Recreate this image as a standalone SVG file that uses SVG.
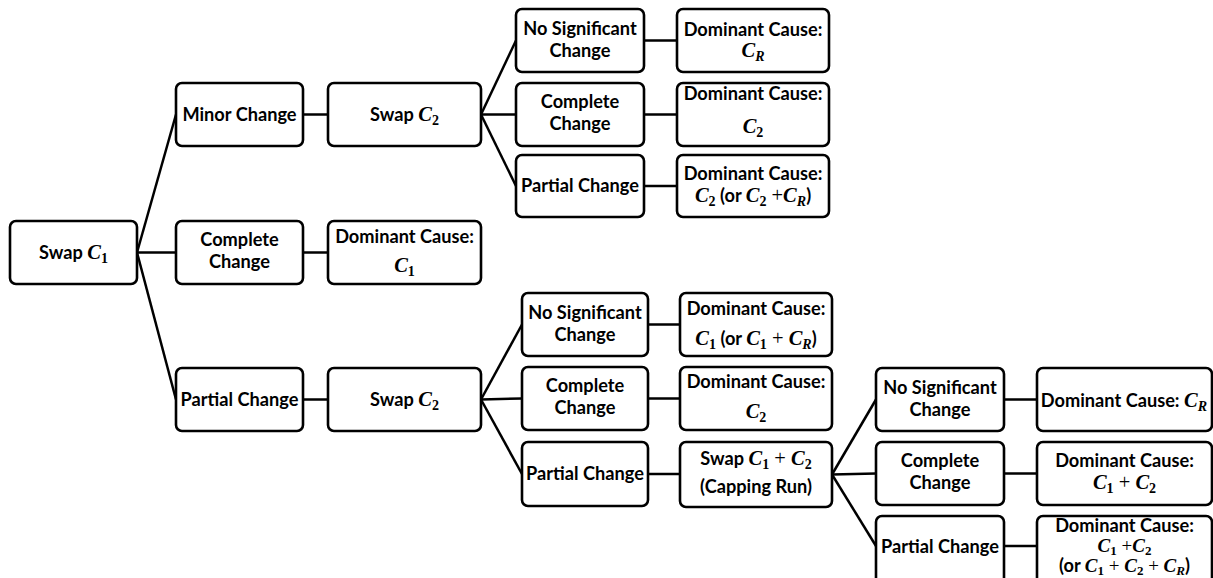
<svg xmlns="http://www.w3.org/2000/svg" width="1213" height="578" viewBox="0 0 1213 578">
<style>
rect{fill:#fff;stroke:#000;stroke-width:2.6}
#connectors line{stroke:#000;stroke-width:2.5}
text{font-family:Lato,"Open Sans",sans-serif;font-weight:bold;font-size:18.2px;text-anchor:middle;fill:#000}
.m{font-family:"Liberation Serif",serif;font-style:italic;font-weight:bold;font-size:20.5px}
.s{font-family:"Liberation Serif",serif;font-style:normal;font-weight:bold;font-size:14px}
.si{font-family:"Liberation Serif",serif;font-style:italic;font-weight:bold;font-size:14px}
.p{font-family:"Liberation Serif",serif;font-style:normal;font-weight:normal;font-size:20.5px}
.tight{font-size:17.5px}
.tight .m,.tight .p{font-size:19px}
.tight .s,.tight .si{font-size:13px}
</style>
<g id="connectors">
<line x1="137" y1="252.5" x2="176" y2="114.5"/>
<line x1="137" y1="252.5" x2="176" y2="252.5"/>
<line x1="137" y1="252.5" x2="176" y2="399.5"/>
<line x1="303" y1="114.5" x2="328" y2="114.5"/>
<line x1="303" y1="252.5" x2="328" y2="252.5"/>
<line x1="303" y1="399.5" x2="328" y2="399.5"/>
<line x1="481" y1="114.5" x2="516" y2="40.5"/>
<line x1="481" y1="114.5" x2="516" y2="114.5"/>
<line x1="481" y1="114.5" x2="516" y2="186"/>
<line x1="644" y1="40.5" x2="677" y2="40.5"/>
<line x1="644" y1="114.5" x2="677" y2="114.5"/>
<line x1="644" y1="186" x2="677" y2="186"/>
<line x1="481" y1="399.5" x2="522" y2="324.5"/>
<line x1="481" y1="399.5" x2="522" y2="398.5"/>
<line x1="481" y1="399.5" x2="522" y2="474"/>
<line x1="648" y1="324.5" x2="680" y2="324.5"/>
<line x1="648" y1="398.5" x2="680" y2="398.5"/>
<line x1="648" y1="474" x2="680" y2="474"/>
<line x1="832" y1="474.5" x2="876" y2="399.5"/>
<line x1="832" y1="474.5" x2="876" y2="473.5"/>
<line x1="832" y1="474.5" x2="876" y2="546"/>
<line x1="1004" y1="399.5" x2="1037" y2="399.5"/>
<line x1="1004" y1="473.5" x2="1037" y2="473.5"/>
<line x1="1004" y1="546" x2="1037" y2="546"/>
</g>

<g id="swap_c1"><rect x="10" y="221" width="127" height="63" rx="6"/>
<text x="73.5" y="259">Swap <tspan class="m">C</tspan><tspan class="s" dy="4">1</tspan></text></g>

<g id="minor_change"><rect x="176" y="83" width="127" height="63" rx="6"/>
<text x="239.5" y="120.5">Minor Change</text></g>

<g id="complete_change_1"><rect x="176" y="221" width="127" height="63" rx="6"/>
<text x="239.5" y="246">Complete</text><text x="239.5" y="268">Change</text></g>

<g id="partial_change_1"><rect x="176" y="368" width="127" height="63" rx="6"/>
<text x="239.5" y="405.5">Partial Change</text></g>

<g id="swap_c2_top"><rect x="328" y="83" width="153" height="63" rx="6"/>
<text x="404.5" y="121">Swap <tspan class="m">C</tspan><tspan class="s" dy="4">2</tspan></text></g>

<g id="dominant_c1"><rect x="328" y="221" width="153" height="63" rx="6"/>
<text x="404.5" y="243">Dominant Cause:</text>
<text x="404.5" y="272"><tspan class="m">C</tspan><tspan class="s" dy="4">1</tspan></text></g>

<g id="swap_c2_bottom"><rect x="328" y="368" width="153" height="63" rx="6"/>
<text x="404.5" y="406">Swap <tspan class="m">C</tspan><tspan class="s" dy="4">2</tspan></text></g>

<g id="no_sig_a"><rect x="516" y="9" width="128" height="63" rx="6"/>
<text x="580" y="35">No Significant</text><text x="580" y="57">Change</text></g>

<g id="complete_a"><rect x="516" y="83" width="128" height="63" rx="6"/>
<text x="580" y="108">Complete</text><text x="580" y="130">Change</text></g>

<g id="partial_a"><rect x="516" y="155" width="128" height="62" rx="6"/>
<text x="580" y="192">Partial Change</text></g>

<g id="dominant_cr_a"><rect x="677" y="9" width="152" height="63" rx="6"/>
<text x="753" y="36">Dominant Cause:</text>
<text x="753" y="57"><tspan class="m">C</tspan><tspan class="si" dy="4">R</tspan></text></g>

<g id="dominant_c2_a"><rect x="677" y="83" width="152" height="63" rx="6"/>
<text x="753" y="100">Dominant Cause:</text>
<text x="753" y="133"><tspan class="m">C</tspan><tspan class="s" dy="4">2</tspan></text></g>

<g id="dominant_c2_or"><rect x="677" y="155" width="152" height="62" rx="6"/>
<text x="753" y="180">Dominant Cause:</text>
<text x="753" y="202"><tspan class="m">C</tspan><tspan class="s" dy="4">2</tspan><tspan dy="-4"> (or </tspan><tspan class="m">C</tspan><tspan class="s" dy="4">2</tspan><tspan class="p" dy="-4"> +</tspan><tspan class="m">C</tspan><tspan class="si" dy="4">R</tspan><tspan dy="-4">)</tspan></text></g>

<g id="no_sig_b"><rect x="522" y="293" width="126" height="63" rx="6"/>
<text x="585" y="319">No Significant</text><text x="585" y="341">Change</text></g>

<g id="complete_b"><rect x="522" y="367" width="126" height="63" rx="6"/>
<text x="585" y="392">Complete</text><text x="585" y="414">Change</text></g>

<g id="partial_b"><rect x="522" y="442" width="126" height="64" rx="6"/>
<text x="585" y="480">Partial Change</text></g>

<g id="dominant_c1_or"><rect x="680" y="293" width="152" height="63" rx="6"/>
<text x="756" y="315">Dominant Cause:</text>
<text x="756" y="345"><tspan class="m">C</tspan><tspan class="s" dy="4">1</tspan><tspan dy="-4"> (or </tspan><tspan class="m">C</tspan><tspan class="s" dy="4">1</tspan><tspan class="p" dy="-4"> + </tspan><tspan class="m">C</tspan><tspan class="si" dy="4">R</tspan><tspan dy="-4">)</tspan></text></g>

<g id="dominant_c2_b"><rect x="680" y="367" width="152" height="63" rx="6"/>
<text x="756" y="388">Dominant Cause:</text>
<text x="756" y="418"><tspan class="m">C</tspan><tspan class="s" dy="4">2</tspan></text></g>

<g id="swap_c1_c2"><rect x="680" y="442" width="152" height="65" rx="6"/>
<text x="756" y="465">Swap <tspan class="m">C</tspan><tspan class="s" dy="4">1</tspan><tspan class="p" dy="-4"> + </tspan><tspan class="m">C</tspan><tspan class="s" dy="4">2</tspan></text>
<text x="756" y="493">(Capping Run)</text></g>

<g id="no_sig_c"><rect x="876" y="368" width="128" height="63" rx="6"/>
<text x="940" y="394">No Significant</text><text x="940" y="416">Change</text></g>

<g id="complete_c"><rect x="876" y="442" width="128" height="63" rx="6"/>
<text x="940" y="467">Complete</text><text x="940" y="489">Change</text></g>

<g id="partial_c"><rect x="876" y="516" width="128" height="70" rx="6"/>
<text x="940" y="553">Partial Change</text></g>

<g id="dominant_cr_c"><rect x="1037" y="368" width="175" height="63" rx="6"/>
<text x="1207" y="407" style="text-anchor:end">Dominant Cause: <tspan class="m">C</tspan><tspan class="si" dy="4">R</tspan></text></g>

<g id="dominant_c1c2"><rect x="1037" y="442" width="175" height="63" rx="6"/>
<text x="1124.5" y="467">Dominant Cause:</text>
<text x="1124.5" y="489"><tspan class="m">C</tspan><tspan class="s" dy="4">1</tspan><tspan class="p" dy="-4"> + </tspan><tspan class="m">C</tspan><tspan class="s" dy="4">2</tspan></text></g>

<g id="dominant_last" class="tight"><rect x="1037" y="516" width="175" height="70" rx="6"/>
<text x="1124.5" y="532">Dominant Cause:</text>
<text x="1124.5" y="552"><tspan class="m">C</tspan><tspan class="s" dy="2.5">1</tspan><tspan class="p" dy="-2.5"> +</tspan><tspan class="m">C</tspan><tspan class="s" dy="2.5">2</tspan></text>
<text x="1124.5" y="572">(or <tspan class="m">C</tspan><tspan class="s" dy="2.5">1</tspan><tspan class="p" dy="-2.5"> + </tspan><tspan class="m">C</tspan><tspan class="s" dy="2.5">2</tspan><tspan class="p" dy="-2.5"> + </tspan><tspan class="m">C</tspan><tspan class="si" dy="2.5">R</tspan><tspan dy="-2.5">)</tspan></text></g>
</svg>
